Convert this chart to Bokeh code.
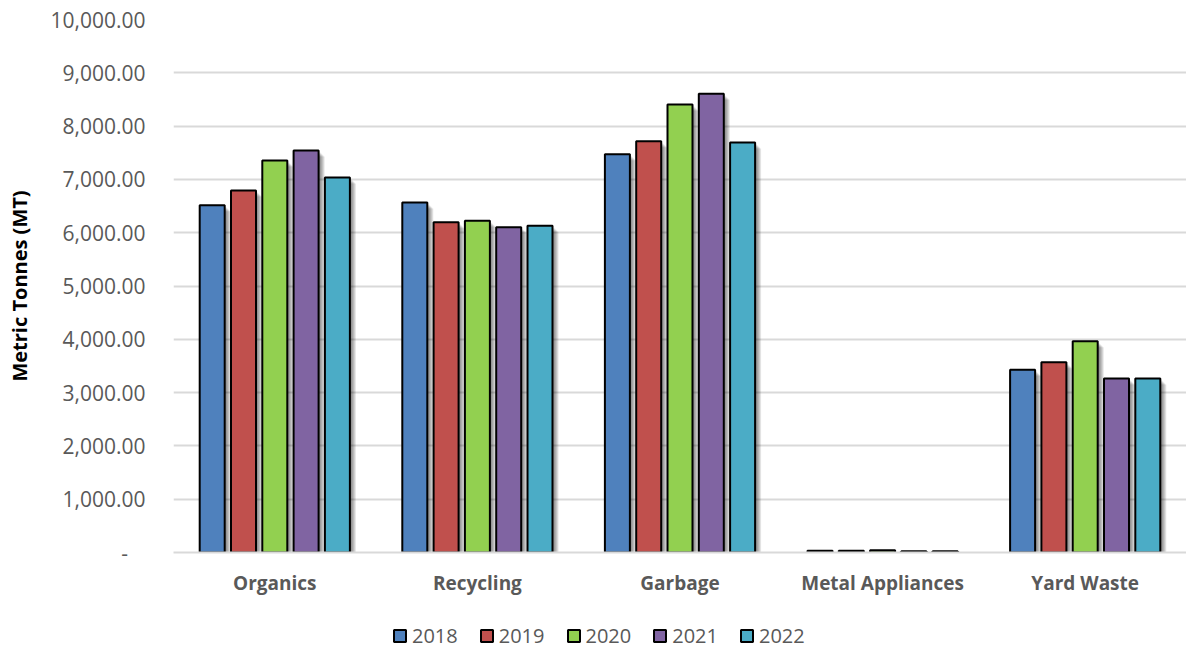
from bokeh.plotting import figure
from bokeh.layouts import column
from bokeh.models import (ColumnDataSource, FactorRange, Range1d, FixedTicker,
                          NumeralTickFormatter, Legend, LegendItem)
from bokeh.transform import dodge
from bokeh.embed import file_html
from bokeh.resources import INLINE

# Collected tonnage by stream and year
categories = ["Organics", "Recycling", "Garbage", "Metal Appliances", "Yard Waste"]
years = ["2018", "2019", "2020", "2021", "2022"]
t2018 = [6515, 6565, 7470, 35, 3430]
t2019 = [6790, 6197, 7715, 35, 3570]
t2020 = [7355, 6223, 8405, 40, 3965]
t2021 = [7540, 6103, 8605, 25, 3265]
t2022 = [7035, 6129, 7690, 25, 3265]
y_ticks = [0, 1000, 2000, 3000, 4000, 5000, 6000, 7000, 8000, 9000, 10000]

series = [t2018, t2019, t2020, t2021, t2022]
colors = ["#4F81BD", "#C0504D", "#92D050", "#8064A2", "#4BACC6"]
FONT = "Open Sans"
TEXT_GREY = "#595959"

W = 1186
CHART_H, LEGEND_H = 600, 50
LEFT, TOP, BOTTOM = 173, 19, 48
frame_w = W - LEFT
frame_h = CHART_H - TOP - BOTTOM
px_x = len(categories) / frame_w          # one pixel in factor units
px_y = 10000 / frame_h                     # one pixel in data units
bar_w = 25 * px_x
pitch = 31.3 * px_x

data = {"cat": categories}
for yr, vals in zip(years, series):
    data[yr] = vals
    for k in range(1, 6):
        data[f"{yr}_s{k}"] = [max(v - (k + 1) * px_y, 0) for v in vals]
source = ColumnDataSource(data)

p = figure(x_range=FactorRange(factors=categories), y_range=Range1d(0, 10000),
           width=W, height=CHART_H,
           output_backend="svg", toolbar_location=None,
           min_border_left=LEFT, min_border_top=TOP, min_border_right=0,
           min_border_bottom=BOTTOM)
p.outline_line_color = None
p.background_fill_color = "white"

# soft drop shadow behind every bar
for i, yr in enumerate(years):
    off = (i - 2) * pitch
    for k in range(1, 6):
        p.vbar(x=dodge("cat", off + (k + 1) * px_x, range=p.x_range),
               top=f"{yr}_s{k}", width=bar_w, source=source,
               fill_color="black", fill_alpha=0.1, line_color=None)

for i, (yr, c) in enumerate(zip(years, colors)):
    off = (i - 2) * pitch
    p.vbar(x=dodge("cat", off, range=p.x_range), top=yr, width=bar_w,
           source=source, fill_color=c, line_color="black", line_width=2)

# axes
p.yaxis.ticker = FixedTicker(ticks=y_ticks)
p.yaxis.formatter = NumeralTickFormatter(format="0,0.00")
p.yaxis.major_label_overrides = {0: "-\u2007\u2008"}
p.yaxis.axis_line_color = None
p.yaxis.major_tick_line_color = None
p.yaxis.minor_tick_line_color = None
p.yaxis.major_tick_out = 0
p.yaxis.major_label_standoff = 28
p.yaxis.major_label_text_font = FONT
p.yaxis.major_label_text_font_size = "21px"
p.yaxis.major_label_text_color = TEXT_GREY
p.yaxis.axis_label = "Metric Tonnes (MT)"
p.yaxis.axis_label_text_font = FONT
p.yaxis.axis_label_text_font_size = "20px"
p.yaxis.axis_label_text_font_style = "bold"
p.yaxis.axis_label_text_color = "black"
p.yaxis.axis_label_standoff = 14

p.xaxis.axis_line_color = "#D9D9D9"
p.xaxis.axis_line_width = 2
p.xaxis.major_tick_line_color = None
p.xaxis.minor_tick_line_color = None
p.xaxis.major_tick_out = 0
p.xaxis.major_label_standoff = 17
p.xaxis.major_label_text_font = FONT
p.xaxis.major_label_text_font_size = "19px"
p.xaxis.major_label_text_font_style = "bold"
p.xaxis.major_label_text_color = TEXT_GREY

p.xgrid.grid_line_color = None
p.ygrid.grid_line_color = "#D9D9D9"
p.ygrid.grid_line_width = 2

# legend strip under the chart: hidden swatch renderers carry the year styles
lf = figure(width=W, height=LEGEND_H, x_range=Range1d(0, 1), y_range=Range1d(0, 1),
            output_backend="svg", toolbar_location=None,
            min_border_left=0, min_border_right=0, min_border_top=0, min_border_bottom=0)
lf.axis.visible = False
lf.grid.visible = False
lf.outline_line_color = None
swatch_src = ColumnDataSource({"x": [0.5], "top": [0.5]})
items = []
for yr, c in zip(years, colors):
    r = lf.vbar(x="x", top="top", width=0.1, source=swatch_src,
                fill_color=c, line_color="black", line_width=2, visible=False)
    items.append(LegendItem(label=yr, renderers=[r]))

legend = Legend(items=items, orientation="horizontal", location=(219, 1),
                glyph_width=15, glyph_height=15, label_standoff=5, spacing=21,
                padding=0, margin=0, border_line_color=None,
                background_fill_alpha=0, inactive_fill_alpha=0,
                click_policy="none",
                label_text_font=FONT, label_text_font_size="20px",
                label_text_color=TEXT_GREY)
lf.add_layout(legend)

layout = column(p, lf, spacing=0)
open("out.html", "w").write(file_html(layout, INLINE))
